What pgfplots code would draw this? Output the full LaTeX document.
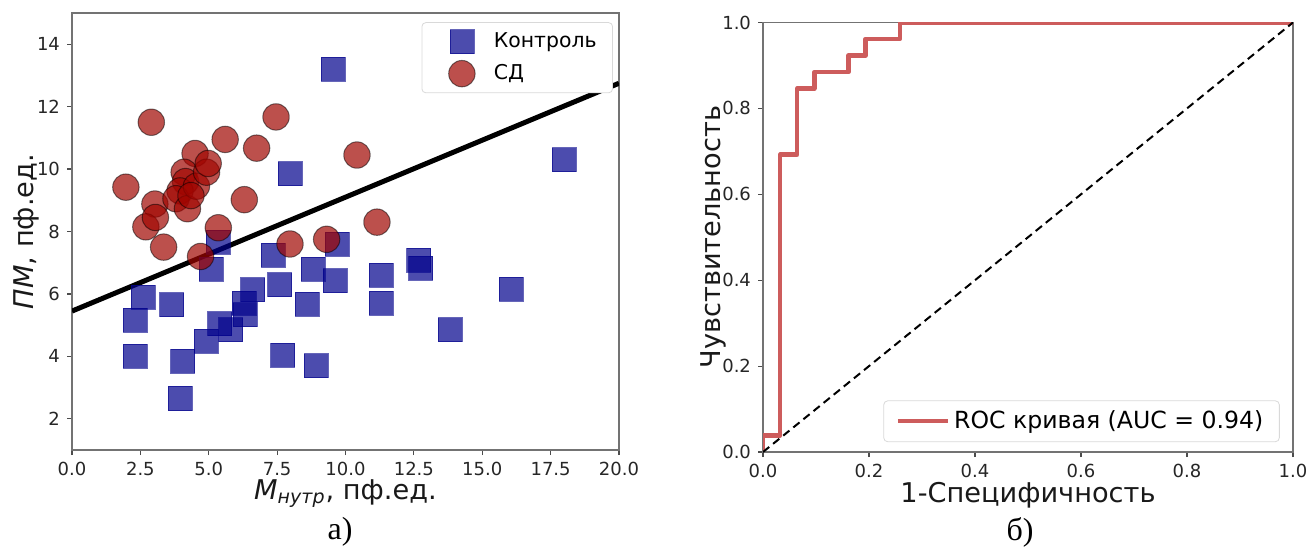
\documentclass[border=0pt]{standalone}
\usepackage{fontspec}
\setmainfont{DejaVu Sans}
\newfontfamily\capfont{Liberation Serif}
\usepackage{pgfplots}
\pgfplotsset{compat=1.18}

\definecolor{ctrl}{RGB}{0,0,139}
\definecolor{sd}{RGB}{160,5,0}
\definecolor{indianred}{RGB}{205,92,92}

\pgfplotsset{
  common/.style={
    scale only axis,
    axis line style={black!55, line width=0.6pt},
    tick style={black!70, line width=0.6pt},
    tick align=outside,
    major tick length=2.5pt,
    xtick pos=bottom, ytick pos=left,
    ticklabel style={font=\fontsize{9}{10}\selectfont, text=black!85},
    label style={font=\fontsize{13.6}{16}\selectfont, text=black!90, inner sep=0pt},
    /pgf/number format/assume math mode=true,
  }
}

\begin{document}
\begin{tikzpicture}
\path[use as bounding box] (0pt,0pt) rectangle (653.5pt,276.5pt);

% a) scatter
\begin{axis}[common,
    at={(36pt,51.5pt)}, anchor=south west,
    width=273.5pt, height=218.5pt,
    xmin=0, xmax=20, ymin=1, ymax=15,
    xtick={0,2.5,...,20}, ytick={2,4,...,14},
    xticklabel style={/pgf/number format/.cd, fixed, fixed zerofill, precision=1},
    xlabel={\textit{M}\textsubscript{\textit{нутр}}, пф.ед.},
    ylabel={\textit{ПМ}, пф.ед.},
    xlabel style={at={(axis description cs:0.5,-0.1)}, anchor=center},
    ylabel style={at={(axis description cs:-0.084,0.5)}, anchor=center},
    legend style={at={(0.989,0.979)}, anchor=north east, draw=black!15,
      rounded corners=2pt, font=\fontsize{10.2}{12}\selectfont,
      inner xsep=6pt, inner ysep=3pt, row sep=3pt},
    legend image code/.code={
      \draw[draw=none] (-2pt,0pt) -- (26pt,0pt);
      \draw[mark repeat=2, mark phase=2, #1] plot coordinates {(0pt,0pt) (12pt,0pt) (24pt,0pt)};},
    legend cell align=left,
]
\addplot[only marks, mark=square*, mark size=6pt,
    mark options={fill=ctrl, draw=ctrl, fill opacity=0.7, draw opacity=0.6}]
  coordinates {
  (2.3,5.15) (2.6,5.9) (2.3,4.0) (3.65,5.65) (4.05,3.85) (3.95,2.65)
  (4.9,4.48) (5.4,5.05) (5.8,4.85) (5.1,6.8) (5.35,7.65) (6.33,5.33)
  (6.3,5.7) (6.6,6.13) (7.35,7.25) (7.6,6.3) (7.7,4.03) (8.6,5.67)
  (8.82,6.8) (8.92,3.7) (9.62,6.42) (9.7,7.6) (9.55,13.2) (7.97,9.85)
  (11.3,6.6) (11.3,5.7) (12.67,7.08) (12.75,6.82) (13.82,4.86)
  (16.05,6.15) (18.0,10.3)
  };
\addlegendentry{Контроль}
\addplot[only marks, mark=*, mark size=6.6pt,
    mark options={fill=sd, draw=black, fill opacity=0.7, draw opacity=0.5, line width=0.5pt}]
  coordinates {
  (2.9,11.5) (1.97,9.42) (3.03,8.88) (2.7,8.15) (3.05,8.45) (3.35,7.5)
  (4.5,10.5) (4.1,9.9) (4.15,9.6) (3.95,9.3) (3.8,9.05) (4.22,8.73)
  (4.55,9.45) (4.35,9.15) (4.92,9.9) (4.98,10.18) (5.6,10.95) (6.75,10.67)
  (7.46,11.67) (6.3,9.02) (5.35,8.12) (4.7,7.2) (7.97,7.6) (9.31,7.75)
  (10.42,10.45) (11.15,8.3)
  };
\addlegendentry{СД}
\addplot[black, line width=2.5pt, forget plot] coordinates {(0,5.45) (20,12.75)};
\end{axis}

% b) ROC
\begin{axis}[common,
    at={(381.5pt,50.5pt)}, anchor=south west,
    width=265pt, height=214.75pt,
    xmin=0, xmax=1, ymin=0, ymax=1,
    xtick={0,0.2,...,1}, ytick={0,0.2,...,1},
    ticklabel style={/pgf/number format/.cd, fixed, fixed zerofill, precision=1},
    xlabel={1-Специфичность},
    ylabel={Чувствительность},
    xlabel style={at={(axis description cs:0.5,-0.1)}, anchor=center},
    ylabel style={at={(axis description cs:-0.094,0.5)}, anchor=center},
    legend style={at={(0.975,0.023)}, anchor=south east, draw=black!15,
      rounded corners=2pt, font=\fontsize{11.8}{14}\selectfont,
      inner xsep=6pt, inner ysep=3pt},
    legend image code/.code={\draw[#1] (0pt,0pt) -- (25pt,0pt);},
]
\addplot[indianred, line width=2.2pt, line join=round] coordinates {
  (0,0) (0,0.0385) (0.0323,0.0385) (0.0323,0.6923) (0.0645,0.6923)
  (0.0645,0.8462) (0.0968,0.8462) (0.0968,0.8846) (0.1613,0.8846)
  (0.1613,0.9231) (0.1935,0.9231) (0.1935,0.9615) (0.2581,0.9615)
  (0.2581,1) (1,1)
  };
\addlegendentry{ROC кривая (AUC = 0.94)}
\addplot[black, line width=1pt, dash pattern=on 4pt off 2.5pt, forget plot]
  coordinates {(0,0) (1,1)};
\end{axis}

\node[font=\capfont\fontsize{16}{18}\selectfont] at (170pt,10.5pt) {а)};
\node[font=\capfont\fontsize{16}{18}\selectfont] at (510pt,10.5pt) {б)};
\end{tikzpicture}
\end{document}
